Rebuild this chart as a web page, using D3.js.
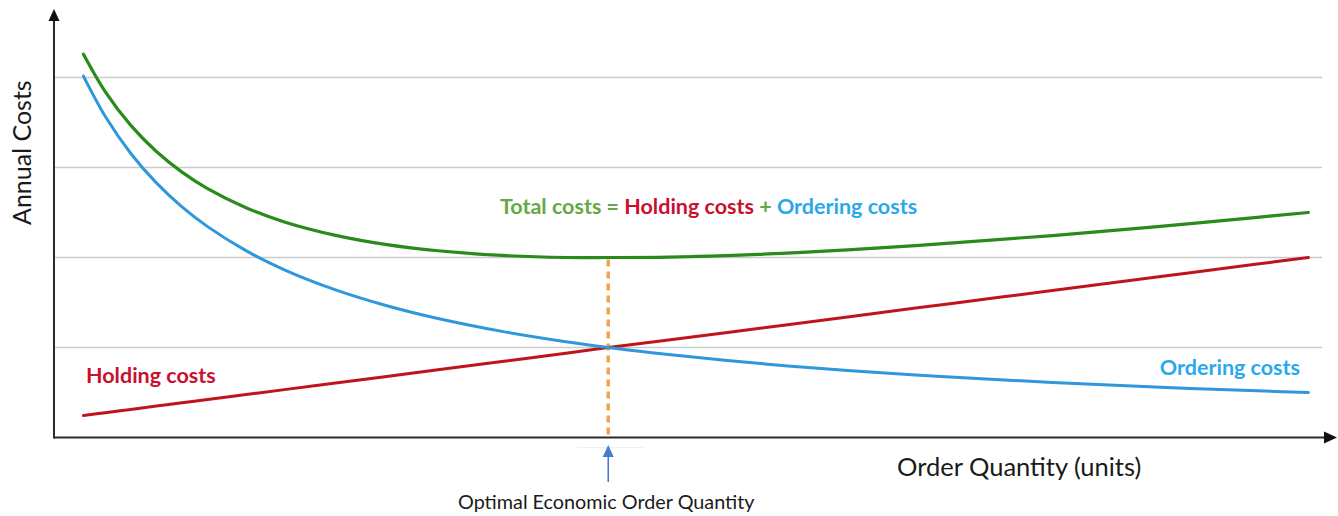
<!DOCTYPE html>
<html><head><meta charset="utf-8">
<script src="https://cdn.jsdelivr.net/npm/d3@7"></script>
<style>html,body{margin:0;padding:0;background:#fff;}svg{display:block;}</style>
</head><body>
<svg id="c" width="1338" height="516"></svg>
<script>
// Order quantity (arbitrary units, 0-100 across the axis)
const quantity = [2.3, 4, 6, 8, 10, 12, 15, 18, 22, 26, 30, 35, 40, 43.3, 48, 55, 62, 70, 78, 86, 94, 98];
// Annual costs (arbitrary units, gridlines at 1,2,3,4)
const orderingCosts = [4.015, 3.569, 3.156, 2.829, 2.563, 2.343, 2.076, 1.863, 1.640, 1.464, 1.322, 1.179, 1.064, 1.000, 0.921, 0.824, 0.745, 0.672, 0.611, 0.561, 0.519, 0.500];
const holdingCosts  = [0.244, 0.275, 0.312, 0.349, 0.386, 0.422, 0.477, 0.532, 0.606, 0.679, 0.753, 0.844, 0.936, 1.000, 1.083, 1.211, 1.340, 1.487, 1.633, 1.780, 1.927, 2.000];
const totalCosts    = [4.259, 3.844, 3.468, 3.178, 2.949, 2.765, 2.553, 2.395, 2.246, 2.143, 2.075, 2.023, 2.000, 2.000, 2.004, 2.035, 2.085, 2.159, 2.244, 2.341, 2.446, 2.500];
const gridValues = [1, 2, 3, 4];
const eoq = 43.3;
const eoqTotal = 2.0;

const svg = d3.select("#c");
const FONT = "Lato, 'Noto Sans', sans-serif";
const x = d3.scaleLinear().domain([0, 100]).range([54, 1334]);
const y = d3.scaleLinear().domain([0, 4]).range([437.5, 77.5]);

// gridlines
svg.append("g").selectAll("line").data(gridValues).join("line")
  .attr("x1", x(0)).attr("x2", 1322)
  .attr("y1", d => y(d)).attr("y2", d => y(d))
  .attr("stroke", "#cbcbcb").attr("stroke-width", 1.6);

// axes
const axisColor = "#2b2b2b";
svg.append("line").attr("x1", x(0)).attr("x2", 1326).attr("y1", y(0)).attr("y2", y(0))
  .attr("stroke", axisColor).attr("stroke-width", 2);
svg.append("line").attr("x1", x(0)).attr("x2", x(0)).attr("y1", y(0) + 1).attr("y2", 19)
  .attr("stroke", axisColor).attr("stroke-width", 2);
svg.append("path").attr("d", `M${x(0)},9 L${x(0)-5.5},21 L${x(0)+5.5},21 Z`).attr("fill", "#111");
svg.append("path").attr("d", `M1337,${y(0)} L1324,${y(0)-6} L1324,${y(0)+6} Z`).attr("fill", "#111");

// dashed EOQ line
svg.append("line").attr("x1", x(eoq)).attr("x2", x(eoq)).attr("y1", y(eoqTotal) + 2).attr("y2", y(0))
  .attr("stroke", "#f5a44e").attr("stroke-width", 3.5).attr("stroke-dasharray", "7,5");

// curves
const line = (vals) => d3.line().x((d, i) => x(quantity[i])).y(d => y(d)).curve(d3.curveCatmullRom)(vals);
svg.append("path").attr("d", line(holdingCosts)).attr("fill", "none").attr("stroke", "#c0141c").attr("stroke-width", 3).attr("stroke-linecap", "round");
svg.append("path").attr("d", line(orderingCosts)).attr("fill", "none").attr("stroke", "#2f97dc").attr("stroke-width", 3).attr("stroke-linecap", "round");
svg.append("path").attr("d", line(totalCosts)).attr("fill", "none").attr("stroke", "#2a8a1c").attr("stroke-width", 3.2).attr("stroke-linecap", "round");

// EOQ arrow
svg.append("line").attr("x1", 577).attr("x2", 643).attr("y1", 447.5).attr("y2", 447.5).attr("stroke", "#f0f0f0").attr("stroke-width", 1);
svg.append("line").attr("x1", x(eoq)).attr("x2", x(eoq)).attr("y1", 482).attr("y2", 455)
  .attr("stroke", "#4a7bd2").attr("stroke-width", 1.6);
svg.append("path").attr("d", `M${x(eoq)},445 L${x(eoq)-5.5},457 L${x(eoq)+5.5},457 Z`).attr("fill", "#4a7bd2");

// texts
svg.append("text").attr("x", 897).attr("y", 476).attr("font-family", FONT).attr("font-size", 25.5)
  .attr("fill", "#1a1a1a").text("Order Quantity (units)");
svg.append("text").attr("transform", "translate(31,225) rotate(-90)").attr("font-family", FONT).attr("font-size", 25)
  .attr("fill", "#1a1a1a").text("Annual Costs");
svg.append("text").attr("x", 458).attr("y", 509).attr("font-family", FONT).attr("font-size", 19.8)
  .attr("fill", "#1a1a1a").text("Optimal Economic Order Quantity");

svg.append("text").attr("x", 86).attr("y", 383).attr("font-family", FONT).attr("font-size", 21.5).attr("font-weight", "bold")
  .attr("fill", "#c8102e").text("Holding costs");
svg.append("text").attr("x", 1300).attr("y", 375).attr("text-anchor", "end").attr("font-family", FONT).attr("font-size", 21.5).attr("font-weight", "bold")
  .attr("fill", "#2aa8ec").text("Ordering costs");

const t = svg.append("text").attr("x", 500).attr("y", 214).attr("font-family", FONT).attr("font-size", 21.5).attr("font-weight", "bold");
t.append("tspan").attr("fill", "#66a843").text("Total costs = ");
t.append("tspan").attr("fill", "#c8102e").text("Holding costs");
t.append("tspan").attr("fill", "#66a843").text(" + ");
t.append("tspan").attr("fill", "#2aa8ec").text("Ordering costs");
</script>
</body></html>
